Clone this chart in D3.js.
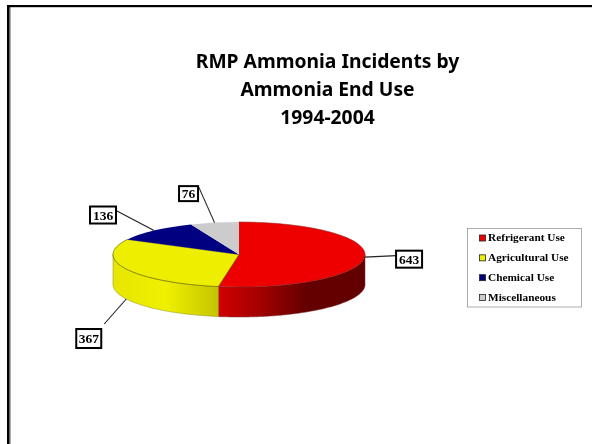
<!DOCTYPE html>
<html><head><meta charset="utf-8">
<script src="https://cdn.jsdelivr.net/npm/d3@7/dist/d3.min.js"></script>
<style>html,body{margin:0;padding:0;background:#fff}svg{display:block}</style>
</head><body><svg id="c" width="592" height="444"></svg>
<script>
const categories = ["Refrigerant Use","Agricultural Use","Chemical Use","Miscellaneous"];
const incidents = [643,367,136,76];
const titleLines = ["RMP Ammonia Incidents by","Ammonia End Use","1994-2004"];
const topColors = ["#ee0000","#eeee00","#000080","#cccccc"];
const wallStops = [
  [[0,"#d00000"],[0.3,"#a00000"],[0.6,"#640000"],[1,"#620000"]],
  [[0,"#e6e600"],[0.5,"#f0f000"],[1,"#c4c400"]],
  [],[]
];
const labelLayout = [
  {box:[44.5,2],end:[32,-1.5],drop:0,w:26,h:17},
  {box:[-37.5,39.5],end:[-22,25],drop:1,w:25,h:19},
  {box:[-51,-15.5],end:[-38,-20],drop:0,w:26,h:17},
  {box:[-26,-29],end:[-16,-36],drop:0,w:19,h:15}
];
const svg = d3.select("#c");
const defs = svg.append("defs");
defs.append("filter").attr("id","soft").append("feGaussianBlur").attr("stdDeviation",0.45);
defs.append("filter").attr("id","softT").append("feGaussianBlur").attr("stdDeviation",0.3);

// slide frame
svg.append("rect").attr("x",10).attr("y",7).attr("width",0.8).attr("height",437).attr("fill","#999");
svg.append("rect").attr("x",7).attr("y",5).attr("width",585).attr("height",2.2).attr("fill","#000");
svg.append("rect").attr("x",7).attr("y",5).attr("width",2.6).attr("height",439).attr("fill","#000");

// title
svg.append("g").attr("filter","url(#softT)").selectAll("text").data(titleLines).join("text")
  .attr("x",327.5).attr("y",(d,i)=>68+i*28).attr("text-anchor","middle")
  .attr("font-family","'Noto Sans', sans-serif").attr("font-weight",700).attr("font-size",19.3).attr("fill","#000").text(d=>d);

// pie
const cx=239, cy=254.5, rx=126, ry=32.5, depth=30;
const pie=d3.pie().sort(null).value(d=>d);
const arcs=pie(incidents);
const px=d3.scaleLinear().domain([-1,1]).range([cx-rx,cx+rx]);
const py=d3.scaleLinear().domain([-1,1]).range([cy-ry,cy+ry]);
const rim=a=>[px(Math.sin(a)),py(-Math.cos(a))];
const chart=svg.append("g").attr("filter","url(#soft)");

arcs.forEach((s,i)=>{
  const a0=Math.max(s.startAngle,Math.PI/2), a1=Math.min(s.endAngle,3*Math.PI/2);
  if(a1<=a0) return;
  const angs=d3.range(a0,a1,0.01).concat([a1]);
  const [xa]=rim(a0),[xb]=rim(a1);
  const g=defs.append("linearGradient").attr("id","w"+i).attr("gradientUnits","userSpaceOnUse")
    .attr("x1",xb).attr("x2",xa).attr("y1",0).attr("y2",0);
  wallStops[i].forEach(st=>g.append("stop").attr("offset",st[0]).attr("stop-color",st[1]));
  const top=angs.map(rim), bot=angs.slice().reverse().map(a=>{const p=rim(a);return [p[0],p[1]+depth];});
  chart.append("path").attr("d",d3.line()(top.concat(bot))+"Z").attr("fill",`url(#w${i})`)
    .attr("stroke",i===1?"#8a8a20":"#7a2020").attr("stroke-width",0.5);
});
const arcGen=d3.arc().innerRadius(0).outerRadius(rx);
chart.append("g").attr("transform",`translate(${cx},${cy}) scale(1,${ry/rx})`)
  .selectAll("path").data(arcs).join("path").attr("d",arcGen).attr("fill",(d,i)=>topColors[i])
  .attr("stroke",(d,i)=>i===1?"#55550a":i===0?"#992222":"none").attr("stroke-width",0.6).attr("vector-effect","non-scaling-stroke");

// data labels
arcs.forEach((s,i)=>{
  const m=(s.startAngle+s.endAngle)/2, l=labelLayout[i];
  const [x,y0]=rim(m), y=y0+l.drop*depth;
  chart.append("line").attr("x1",x).attr("y1",y).attr("x2",x+l.end[0]).attr("y2",y+l.end[1]).attr("stroke","#222").attr("stroke-width",1.1);
  const bx=x+l.box[0], by=y+l.box[1];
  chart.append("rect").attr("x",bx-l.w/2).attr("y",by-l.h/2).attr("width",l.w).attr("height",l.h)
    .attr("fill","#fff").attr("stroke","#000").attr("stroke-width",2);
  chart.append("text").attr("x",bx).attr("y",by+4.6).attr("text-anchor","middle")
    .attr("font-family","'Liberation Serif', serif").attr("font-weight",700).attr("font-size",13.5).attr("fill","#000").text(incidents[i]);
});

// legend
const leg=chart.append("g");
leg.append("rect").attr("x",467.5).attr("y",228.5).attr("width",114).attr("height",78.5).attr("fill","#fff").attr("stroke","#999").attr("stroke-width",0.8);
const ly=d3.scalePoint().domain(categories).range([238,297.5]);
categories.forEach((c,i)=>{
  leg.append("rect").attr("x",479.5).attr("y",ly(c)-3).attr("width",6).attr("height",6)
    .attr("fill",topColors[i]).attr("stroke","#222").attr("stroke-width",0.8);
  leg.append("text").attr("x",488).attr("y",ly(c)+3.4).attr("font-family","'Liberation Serif', serif").attr("font-weight",700)
    .attr("font-size",11.3).attr("fill","#000").text(c);
});
</script></body></html>
